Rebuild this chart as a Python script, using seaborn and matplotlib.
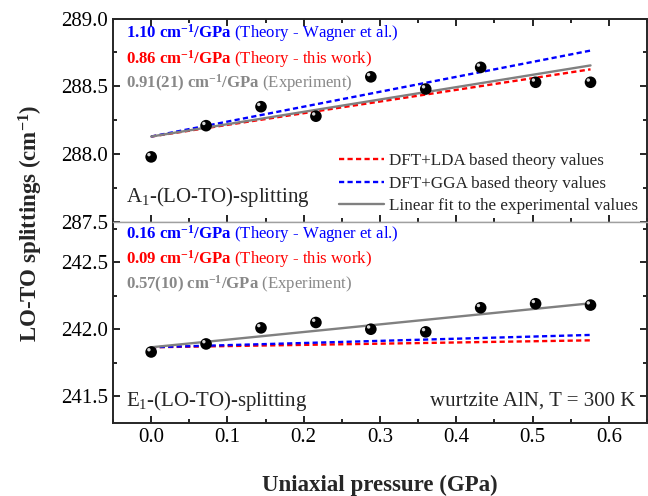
import matplotlib
matplotlib.use("Agg")
import matplotlib.pyplot as plt
import matplotlib.transforms as mtransforms
from matplotlib.ticker import MultipleLocator
import numpy as np
import seaborn as sns

# measured splittings vs uniaxial pressure
pressure = [0.0, 0.072, 0.144, 0.216, 0.288, 0.360, 0.432, 0.504, 0.576]
a1_split = [287.98, 288.21, 288.35, 288.28, 288.57, 288.48, 288.64, 288.53, 288.53]
e1_split = [241.83, 241.89, 242.01, 242.05, 242.00, 241.98, 242.16, 242.19, 242.18]

# linear models: [LDA, GGA, experiment fit], slopes in cm^-1/GPa
a1_intercept = 288.13
a1_slopes = [0.86, 1.10, 0.91]
a1_slope_text = ["0.86", "1.10", "0.91(21)"]
e1_intercept = 241.865
e1_slopes = [0.09, 0.16, 0.57]
e1_slope_text = ["0.09", "0.16", "0.57(10)"]

line_names = ["DFT+LDA based theory values", "DFT+GGA based theory values",
              "Linear fit to the experimental values"]
line_colors = ["#ff0000", "#0000ff", "#808080"]
line_styles = [(0, (2.2, 1.4)), (0, (2.2, 1.4)), "-"]
src_names = ["(Theory - this work)", "(Theory - Wagner et al.)", "(Experiment)"]
text_colors = ["#ff0000", "#0000ff", "#888888"]

sns.set_style("ticks")
plt.rcParams["font.family"] = ["Liberation Serif", "DejaVu Serif"]
plt.rcParams["mathtext.fontset"] = "custom"
plt.rcParams["mathtext.rm"] = "Liberation Serif"
plt.rcParams["mathtext.it"] = "Liberation Serif:italic"
plt.rcParams["mathtext.bf"] = "Liberation Serif:bold"

fig = plt.figure(figsize=(6.48, 4.96), dpi=100)
ax_top = fig.add_axes([0.1744, 0.5524, 0.824, 0.4103])
ax_bot = fig.add_axes([0.1744, 0.1472, 0.824, 0.4052])


def draw_panel(ax, y, intercept, slopes):
    xfit = np.array([0.0, max(pressure)])
    for slope, name, col, ls in zip(slopes, line_names, line_colors, line_styles):
        sns.lineplot(x=xfit, y=intercept + slope * xfit, ax=ax, color=col,
                     linestyle=ls, linewidth=1.7, label=name, zorder=2)
    sns.scatterplot(x=pressure, y=y, ax=ax, color="black", s=70,
                    edgecolor="none", zorder=3)
    # little highlight so the dots look like the shaded spheres
    shift = mtransforms.ScaledTranslation(-1.6 / 72, 1.6 / 72, fig.dpi_scale_trans)
    ax.scatter(pressure, y, s=6, color="#d8d8d8", edgecolor="none",
               transform=ax.transData + shift, zorder=4)
    ax.set_xlim(-0.05, 0.65)
    ax.xaxis.set_major_locator(MultipleLocator(0.1))
    ax.xaxis.set_minor_locator(MultipleLocator(0.05))
    ax.yaxis.set_major_locator(MultipleLocator(0.5))
    ax.yaxis.set_minor_locator(MultipleLocator(0.25))
    ax.yaxis.set_major_formatter(matplotlib.ticker.FormatStrFormatter("%.1f"))
    ax.tick_params(which="both", direction="in", top=True, right=True,
                   labelsize=15, width=1.2, colors="black")
    ax.tick_params(which="major", length=5)
    ax.tick_params(which="minor", length=3)
    for sp in ax.spines.values():
        sp.set_linewidth(1.4)
    ax.set_xlabel("")
    ax.set_ylabel("")


draw_panel(ax_top, a1_split, a1_intercept, a1_slopes)
draw_panel(ax_bot, e1_split, e1_intercept, e1_slopes)

ax_top.set_ylim(287.5, 289.0)
ax_bot.set_ylim(241.3, 242.8)
ax_top.tick_params(labelbottom=False)
ax_bot.tick_params(which="both", top=False)
ax_top.spines["bottom"].set_color("#a0a0a0")
ax_top.spines["bottom"].set_linewidth(1.0)
ax_bot.spines["top"].set_color("#a0a0a0")
ax_bot.spines["top"].set_linewidth(1.0)

ax_bot.get_legend().remove()
handles, labels = ax_top.get_legend_handles_labels()
ax_top.legend(handles[:3], labels[:3], loc="lower right", bbox_to_anchor=(1.005, -0.02),
              frameon=False, fontsize=12.3, handlelength=2.6, handletextpad=0.3,
              labelspacing=0.38, borderaxespad=0.3)

# slope annotations, in the order GGA, LDA, experiment
order = [1, 0, 2]
top_ys = [0.906, 0.780, 0.658]
bot_ys = [0.915, 0.791, 0.670]
for ax, vals, ys in [(ax_top, a1_slope_text, top_ys), (ax_bot, e1_slope_text, bot_ys)]:
    for i, yy in zip(order, ys):
        ax.text(0.025, yy,
                r"$\mathbf{" + vals[i] + r"\ cm^{-1}/GPa}$ " + src_names[i],
                transform=ax.transAxes, color=text_colors[i], fontsize=12.1,
                ha="left", va="baseline")

ax_top.text(0.025, 0.10, r"A$_1$-(LO-TO)-splitting", transform=ax_top.transAxes,
            fontsize=15, ha="left", va="baseline")
ax_bot.text(0.025, 0.085, r"E$_1$-(LO-TO)-splitting", transform=ax_bot.transAxes,
            fontsize=15, ha="left", va="baseline")
ax_bot.text(0.979, 0.085, "wurtzite AlN, T = 300 K", transform=ax_bot.transAxes,
            fontsize=15, ha="right", va="baseline")

ax_bot.set_xlabel("Uniaxial pressure (GPa)", fontsize=16.5, fontweight="bold",
                  labelpad=20)
fig.text(0.047, 0.55, r"LO-TO splittings (cm$^{\mathbf{-1}}$)", rotation=90,
         fontsize=16.5, fontweight="bold", ha="center", va="center")

fig.savefig("out.png", dpi=100)
